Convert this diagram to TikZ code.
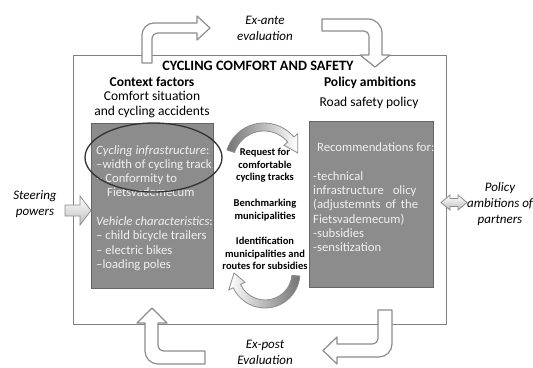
\documentclass[tikz,border=0pt]{standalone}
\usepackage{fontspec}
\setmainfont{Carlito}
\usetikzlibrary{calc}
\tikzset{
  frameline/.style={line width=1pt, color=black!50},
  greybox/.style={fill=black!45, draw=black!60, line width=0.8pt},
  boxtext/.style={text=black!6, align=left, inner sep=0pt, font=\fontsize{12.7}{14.3}\selectfont},
  hollow/.style={draw=black!45, fill=white, line width=1.2pt, line join=round},
  shadedarrow/.style={draw=black!45, line width=0.8pt, top color=white, bottom color=black!25},
  heading/.style={font=\fontsize{13.5}{15}\selectfont\bfseries, inner sep=0pt},
  subhead/.style={font=\fontsize{13.5}{15.5}\selectfont, align=center, inner sep=0pt},
  midtext/.style={font=\fontsize{10.5}{12.4}\selectfont\bfseries, align=center, inner sep=0pt},
  sidelabel/.style={font=\fontsize{13}{16}\selectfont\itshape, align=center, inner sep=0pt}
}

\begin{document}
\begin{tikzpicture}[x=1pt, y=-1pt]
			%%%%% START %%%%%
			\useasboundingbox (0,0) rectangle (533,367);
			
			\draw[frameline] (73,55) rectangle (446,324);
			
			\draw[greybox] (91,123) rectangle (213,288);
			\draw[greybox] (309,121) rectangle (433,287);
			
			\node[boxtext, anchor=north west] (vehicles) at (96,145) {\textit{Cycling infrastructure}:\\
				--width of cycling track\\
				-- Conformity to\\
				\hspace*{11pt}Fietsvademecum\\[14.3pt]
				\textit{Vehicle characteristics}:\\
				-- child bicycle trailers\\
				-- electric bikes\\
				--loading poles};
			\node[boxtext, anchor=north west] (recommend) at (313,142.5) {\hspace*{4pt}Recommendations for:\\[14.3pt]
				-technical\\
				infrastructure\hspace{6pt} olicy\\
				(adjustemnts\hspace{2pt} of\hspace{2pt} the\\
				Fietsvademecum)\\
				-subsidies\\
				-sensitization};
			
			\draw[line width=1.3pt, color=black!80] (153.5,157.5) ellipse [x radius=68.5, y radius=34.5];
			
			\node[heading, font=\fontsize{14.3}{15}\selectfont\bfseries] (title) at (258,66) {CYCLING COMFORT AND SAFETY};
			\node[heading] (context) at (152,82) {Context factors};
			\node[subhead] (comfort) at (152,104.5) {Comfort situation\\and cycling accidents};
			\node[heading] (policy) at (370,83) {Policy ambitions};
			\node[subhead] (roadsafety) at (369,103) {Road safety policy};
			
			\node[midtext] (request) at (265,165.5) {Request for\\comfortable\\cycling tracks};
			\node[midtext] (bench) at (265,210) {Benchmarking\\municipalities};
			\node[midtext] (ident) at (265,253.5) {Identification\\municipalities and\\routes for subsidies};
			
			\node[sidelabel] (steering) at (35,204) {Steering\\powers};
			\node[sidelabel] (partners) at (500,204) {Policy\\ambitions of\\partners};
			\node[sidelabel] (exante) at (265,28) {Ex-ante\\evaluation};
			\node[sidelabel] (expost) at (265,352.5) {Ex-post\\Evaluation};
			
			% bent arrows round the frame
			\draw[hollow] (142,63) -- (142,35) arc[start angle=180, end angle=270, radius=12] -- (197,23) -- (197,16) -- (210,28) -- (197,40) -- (197,33) -- (158,33) arc[start angle=270, end angle=180, radius=6] -- (152,63) -- cycle;
			\draw[hollow] (322,19) -- (368,19) arc[start angle=270, end angle=360, radius=14] -- (382,55) -- (390,55) -- (375,67) -- (360,55) -- (369,55) -- (369,36) arc[start angle=0, end angle=-90, radius=5] -- (322,31) -- cycle;
			\draw[hollow] (152,308) -- (167,323) -- (158,323) -- (158,345) arc[start angle=180, end angle=90, radius=6] -- (205,351) -- (205,364) -- (158,364) arc[start angle=90, end angle=180, radius=13] -- (145,323) -- (137,323) -- cycle;
			\draw[hollow] (378,310) -- (392,310) -- (392,344) arc[start angle=0, end angle=90, radius=13] -- (337,357) -- (337,364) -- (323,350.5) -- (337,337) -- (337,344) -- (372,344) arc[start angle=90, end angle=0, radius=6] -- cycle;
			
			\draw[shadedarrow] (65,205) -- (80,205) -- (80,196) -- (91,210.5) -- (80,225) -- (80,216) -- (65,216) -- cycle;
			\draw[shadedarrow] (441,202.5) -- (450,195) -- (450,198.5) -- (458,198.5) -- (458,195) -- (467,202.5) -- (458,210) -- (458,206.5) -- (450,206.5) -- (450,210) -- cycle;
			
			% curved arrows in the middle
			\coordinate (topc) at (264,162);
			\draw[draw=black!45, line width=0.8pt, left color=black!55, right color=white] ($(topc)+(198:39)$) arc[start angle=198, end angle=320, radius=39] -- ($(topc)+(320:44)$) -- ($(topc)+(345:35)$) -- ($(topc)+(320:26)$) -- ($(topc)+(320:31)$) arc[start angle=320, end angle=198, radius=31] -- cycle;
			\coordinate (botc) at (265,273);
			\draw[draw=black!45, line width=0.8pt, left color=white, right color=black!55] ($(botc)+(5:35)$) arc[start angle=5, end angle=155, radius=35] -- ($(botc)+(155:40)$) -- ($(botc)+(180:31)$) -- ($(botc)+(155:22)$) -- ($(botc)+(155:27)$) arc[start angle=155, end angle=5, radius=27] -- cycle;
			
			%%%%% END %%%%%
\end{tikzpicture}
\end{document}
